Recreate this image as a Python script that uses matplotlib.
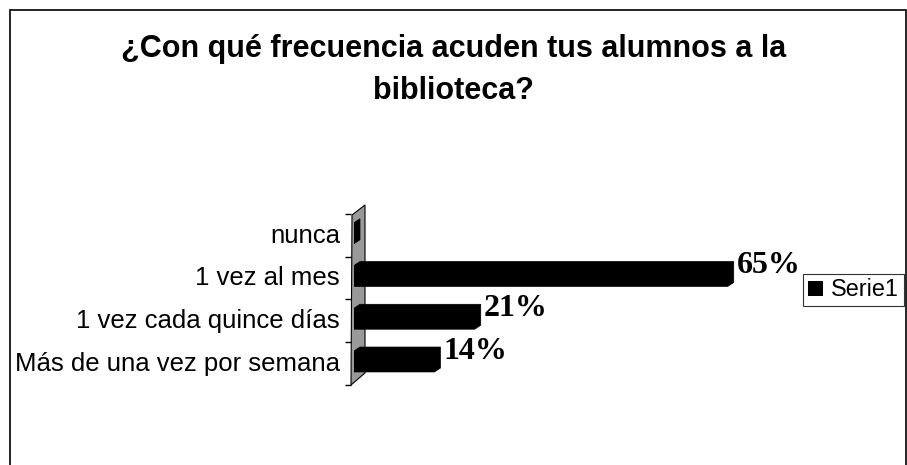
import numpy as np
import matplotlib
matplotlib.use("Agg")
import matplotlib.pyplot as plt
from matplotlib.patches import Polygon, Rectangle

categorias = ["Más de una vez por semana", "1 vez cada quince días", "1 vez al mes", "nunca"]
valores = [14, 21, 65, 0]
etiquetas = ["14%", "21%", "65%", ""]
serie = "Serie1"
titulo = "¿Con qué frecuencia acuden tus alumnos a la\nbiblioteca?"

W, H = 907, 465
fig = plt.figure(figsize=(W / 100, H / 100), dpi=100)

def fx(px):
    return px / W

def fy(py):
    return 1 - py / H

# outer frame of the chart area
fig.patches.append(Rectangle((fx(10), -0.05), fx(896), fy(10) + 0.05,
                             transform=fig.transFigure, fill=False,
                             edgecolor="black", linewidth=1.2))

# grey 3D wall behind the bars
wall = Polygon([(fx(351), fy(385)), (fx(365), fy(373)), (fx(365), fy(205)), (fx(352), fy(215))],
               closed=True, transform=fig.transFigure, facecolor="#999999",
               edgecolor="black", linewidth=0.8, zorder=-1)
fig.patches.append(wall)

ax = fig.add_axes([fx(354), fy(385), fx(402.5), (385 - 205) / H])
ax.set_zorder(2)
ax.set_xlim(0, 70)
ax.set_ylim(-0.52, 3.66)
ax.patch.set_alpha(0)
for s in ["top", "right", "bottom"]:
    ax.spines[s].set_visible(False)
ax.spines["left"].set_position(("outward", 2.2))
ax.spines["left"].set_visible(False)
ax.set_xticks([])

# 3D-like bars: front face plus a shifted back face
h = 0.49
dx, dy = 1.04, 0.093
ypos = np.arange(len(categorias))
for y, v in zip(ypos, valores):
    yb, yt = y - h / 2, y + h / 2
    pts = [(0, yb), (v, yb), (v + dx, yb + dy), (v + dx, yt + dy), (dx, yt + dy), (0, yt)]
    ax.add_patch(Polygon(pts, closed=True, facecolor="black", edgecolor="black",
                         linewidth=0.5, zorder=3))

bars = ax.barh(ypos, valores, height=h, color="black", zorder=3, label=serie)

for y, v, t in zip(ypos, valores, etiquetas):
    if t:
        ax.text(v + dx + 0.5, y + 0.24, t, family="Liberation Serif", fontweight="bold",
                fontsize=23, va="center", ha="left")

ax.set_yticks(ypos)
ax.set_yticklabels(categorias, family="Liberation Sans", fontsize=18.5)
ax.tick_params(axis="y", which="major", length=0, pad=8)
ax.set_yticks(np.arange(5) - 0.55, minor=True)
ax.tick_params(axis="y", which="minor", length=4.3, width=1, color="black")

fig.text(0.5, fy(70), titulo, ha="center", va="center", family="Liberation Sans",
         fontweight="bold", fontsize=22, linespacing=1.5)

leg = fig.legend(handles=[bars], labels=[serie], loc="center left",
                 bbox_to_anchor=(fx(803), fy(290)), frameon=True, fancybox=False,
                 handlelength=0.65, handleheight=0.65, handletextpad=0.35,
                 borderpad=0.2, borderaxespad=0, prop={"family": "Liberation Sans", "size": 16.8})
leg.get_frame().set_edgecolor("black")
leg.get_frame().set_linewidth(0.8)

fig.savefig("out.png", dpi=100)
